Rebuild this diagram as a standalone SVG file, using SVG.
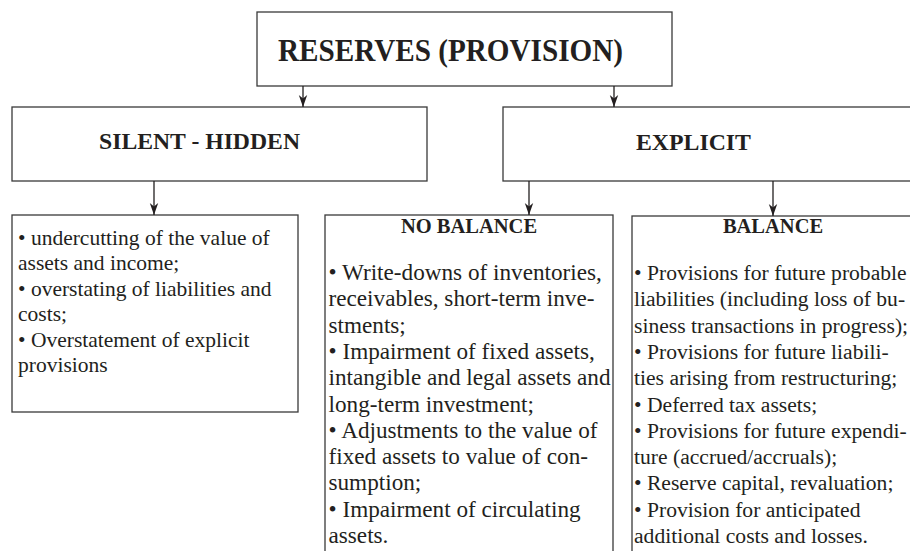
<svg xmlns="http://www.w3.org/2000/svg" width="910" height="551" viewBox="0 0 910 551">
  <defs>
    <marker id="arrow" markerUnits="userSpaceOnUse" markerWidth="14" markerHeight="12" viewBox="-13 -6 14 12" refX="0" refY="0" orient="auto">
      <path d="M0,0 L-12,-4.2 L-8.5,0 L-12,4.2 Z" fill="#231f20"/>
    </marker>
    <style>
      .box { fill: #ffffff; stroke: #3a3a3a; stroke-width: 1.3; }
      .link { fill: none; stroke: #231f20; stroke-width: 1.3; }
      .head { font-family: "Liberation Serif", "Times New Roman", serif; font-weight: bold; fill: #231f20; }
      .body { font-family: "Liberation Serif", "Times New Roman", serif; fill: #231f20; }
    </style>
  </defs>

  <rect width="910" height="551" fill="#ffffff"/>

  <!-- Root -->
  <g id="reserves">
    <rect class="box" x="257" y="12" width="415" height="74"/>
    <text class="head" x="278" y="60.5" font-size="32.5" textLength="345" lengthAdjust="spacingAndGlyphs">RESERVES (PROVISION)</text>
  </g>

  <!-- Second level -->
  <g id="silent-hidden">
    <rect class="box" x="12" y="107" width="415" height="74"/>
    <text class="head" x="99" y="148.5" font-size="23" textLength="201" lengthAdjust="spacingAndGlyphs">SILENT - HIDDEN</text>
  </g>

  <g id="explicit">
    <rect class="box" x="503" y="107" width="420" height="74"/>
    <text class="head" x="636" y="150" font-size="23" textLength="115" lengthAdjust="spacingAndGlyphs">EXPLICIT</text>
  </g>

  <!-- Third level -->
  <g id="hidden-items">
    <rect class="box" x="12" y="215" width="286" height="197"/>
    <text class="body" font-size="21.5">
      <tspan x="18" y="244.5">• undercutting of the value of</tspan>
      <tspan x="18" y="270">assets and income;</tspan>
      <tspan x="18" y="295.5">• overstating  of liabilities and</tspan>
      <tspan x="18" y="321">costs;</tspan>
      <tspan x="18" y="346.5">• Overstatement of explicit</tspan>
      <tspan x="18" y="372">provisions</tspan>
    </text>
  </g>

  <g id="no-balance">
    <rect class="box" x="325" y="215" width="288" height="350"/>
    <text class="head" x="469" y="233" font-size="20.5" text-anchor="middle">NO BALANCE</text>
    <text class="body" font-size="23.2">
      <tspan x="328.5" y="280">• Write-downs of inventories,</tspan>
      <tspan x="328.5" y="306.3">receivables, short-term inve-</tspan>
      <tspan x="328.5" y="332.6">stments;</tspan>
      <tspan x="328.5" y="358.9">• Impairment of fixed assets,</tspan>
      <tspan x="328.5" y="385.2">intangible and legal assets and</tspan>
      <tspan x="328.5" y="411.5">long-term investment;</tspan>
      <tspan x="328.5" y="437.8">• Adjustments to the value of</tspan>
      <tspan x="328.5" y="464.1">fixed assets to value of con-</tspan>
      <tspan x="328.5" y="490.4">sumption;</tspan>
      <tspan x="328.5" y="516.7">• Impairment of circulating</tspan>
      <tspan x="328.5" y="543">assets.</tspan>
    </text>
  </g>

  <g id="balance">
    <rect class="box" x="632" y="216" width="290" height="350"/>
    <text class="head" x="773" y="233" font-size="20.5" text-anchor="middle">BALANCE</text>
    <text class="body" font-size="21.6">
      <tspan x="634" y="280">• Provisions for future probable</tspan>
      <tspan x="634" y="306.3">liabilities (including loss of bu-</tspan>
      <tspan x="634" y="332.6">siness transactions in progress);</tspan>
      <tspan x="634" y="358.9">• Provisions for future liabili-</tspan>
      <tspan x="634" y="385.2">ties arising from restructuring;</tspan>
      <tspan x="634" y="411.5">• Deferred tax assets;</tspan>
      <tspan x="634" y="437.8">• Provisions for future expendi-</tspan>
      <tspan x="634" y="464.1">ture (accrued/accruals);</tspan>
      <tspan x="634" y="490.4">• Reserve capital, revaluation;</tspan>
      <tspan x="634" y="516.7">• Provision for anticipated</tspan>
      <tspan x="634" y="543">additional costs and losses.</tspan>
    </text>
  </g>

  <!-- Connectors -->
  <g id="connectors">
    <line class="link" x1="303" y1="86" x2="303" y2="107" marker-end="url(#arrow)"/>
    <line class="link" x1="614" y1="86" x2="614" y2="107" marker-end="url(#arrow)"/>
    <line class="link" x1="154" y1="181" x2="154" y2="215" marker-end="url(#arrow)"/>
    <line class="link" x1="529" y1="181" x2="529" y2="215" marker-end="url(#arrow)"/>
    <line class="link" x1="773" y1="181" x2="773" y2="216" marker-end="url(#arrow)"/>
  </g>
</svg>
